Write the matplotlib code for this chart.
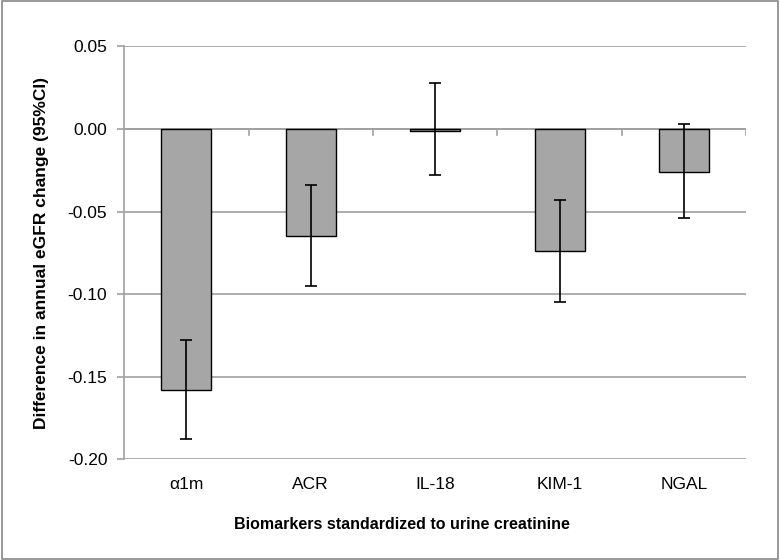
import numpy as np
import matplotlib.pyplot as plt
from matplotlib.patches import Rectangle

plt.rcParams['font.family'] = ['Liberation Sans', 'DejaVu Sans']

biomarkers = ['α1m', 'ACR', 'IL-18', 'KIM-1', 'NGAL']
estimate = [-0.158, -0.065, -0.001, -0.074, -0.026]
ci_low = [-0.188, -0.095, -0.028, -0.105, -0.054]
ci_high = [-0.128, -0.034, 0.028, -0.043, 0.003]
yticks = [0.05, 0.00, -0.05, -0.10, -0.15, -0.20]

est = np.array(estimate)
yerr = [est - np.array(ci_low), np.array(ci_high) - est]
x = np.arange(len(biomarkers))

fig = plt.figure(figsize=(7.8, 5.6), dpi=100)
ax = fig.add_axes([0.159, 0.18, 0.798, 0.737])

ax.bar(x, est, width=0.4, color='#a6a6a6', edgecolor='black', linewidth=1, zorder=3)
ax.errorbar(x, est, yerr=yerr, fmt='none', ecolor='black', elinewidth=1.2,
            capsize=4, capthick=1.2, zorder=4)

ax.set_xlim(-0.5, len(biomarkers) - 0.5)
ax.set_ylim(-0.20, 0.05)
ax.set_yticks(yticks)
ax.set_yticklabels([f'{v:.2f}' for v in yticks], fontsize=12.5)
ax.yaxis.grid(True, color='#a0a0a0', linewidth=1.2, zorder=0)

# zero line acts as horizontal axis, ticks at category boundaries
ax.axhline(0, color='#a0a0a0', linewidth=1.2, zorder=1)
for b in np.arange(0.5, len(biomarkers), 1.0):
    ax.plot([b, b], [0, -0.0035], color='#a0a0a0', linewidth=1.2, zorder=1)

ax.set_xticks(x)
ax.set_xticklabels(biomarkers, fontsize=12.5)
ax.tick_params(axis='x', length=0, pad=13)
ax.tick_params(axis='y', length=5, color='#a0a0a0', width=1.2, pad=7)

for s in ['top', 'right', 'bottom']:
    ax.spines[s].set_visible(False)
ax.spines['left'].set_color('#a0a0a0')
ax.spines['left'].set_linewidth(1.2)

ax.set_ylabel('Difference in annual eGFR change (95%CI)', fontsize=12.5,
              fontweight='bold')
ax.yaxis.set_label_coords(-0.12, 0.5)
ax.set_xlabel('Biomarkers standardized to urine creatinine', fontsize=11.5,
              fontweight='bold')
ax.xaxis.set_label_coords(0.446, -0.14)

fig.patches.append(Rectangle((0.002, 0.002), 0.996, 0.996, transform=fig.transFigure,
                             fill=False, edgecolor='#888888', linewidth=1.2))

fig.savefig('out.png', dpi=100)
